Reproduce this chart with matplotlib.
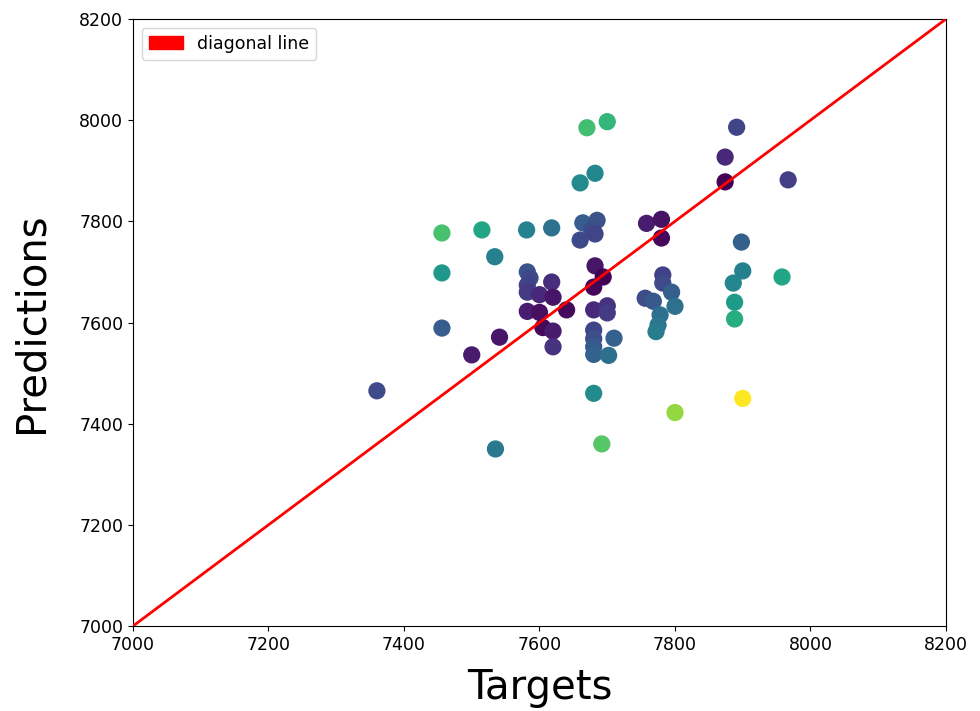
import numpy as np
import matplotlib
matplotlib.use('Agg')
import matplotlib.pyplot as plt
import matplotlib.patches as mpatches

# valores reais e previstos do modelo
targets = [7360, 7456, 7456, 7456, 7500, 7515, 7534, 7535, 7541, 7581,
           7618, 7582, 7586, 7582, 7582, 7600, 7618, 7620, 7582, 7600,
           7640, 7605, 7620, 7620, 7660, 7664, 7685, 7677, 7682, 7660,
           7682, 7670, 7700, 7682, 7694, 7680, 7680, 7700, 7700, 7680,
           7680, 7680, 7680, 7710, 7702, 7680, 7692, 7758, 7780, 7780,
           7782, 7782, 7756, 7768, 7795, 7800, 7778, 7775, 7772, 7800,
           7891, 7874, 7874, 7967, 7898, 7900, 7886, 7958, 7888, 7888,
           7900]
predictions = [7465, 7777, 7698, 7589, 7536, 7783, 7730, 7350, 7571, 7783,
               7787, 7700, 7688, 7674, 7660, 7655, 7680, 7650, 7622, 7620,
               7625, 7590, 7583, 7552, 7763, 7797, 7802, 7783, 7775, 7876,
               7895, 7985, 7997, 7712, 7690, 7670, 7625, 7633, 7619, 7585,
               7568, 7552, 7537, 7569, 7535, 7460, 7360, 7796, 7804, 7767,
               7694, 7678, 7648, 7642, 7660, 7632, 7615, 7595, 7582, 7422,
               7986, 7927, 7878, 7882, 7759, 7702, 7678, 7690, 7640, 7607,
               7450]

targets = np.array(targets)
predictions = np.array(predictions)
erro = np.abs(predictions - targets)

lims = [7000, 8200]

fig = plt.figure(figsize=(9.8, 7.11), dpi=100)
ax = fig.add_axes([0.1357, 0.1195, 0.8296, 0.8538])
ax.scatter(targets, predictions, c=erro, cmap='viridis', s=130, zorder=2)
ax.plot(lims, lims, color='red', linewidth=2, zorder=3)
ax.set_xlim(lims)
ax.set_ylim(lims)
ax.set_xticks(np.arange(7000, 8201, 200))
ax.set_yticks(np.arange(7000, 8201, 200))
ax.tick_params(labelsize=12.5)
ax.set_xlabel('Targets', fontsize=29, labelpad=10)
ax.set_ylabel('Predictions', fontsize=29, labelpad=20)

red_patch = mpatches.Patch(color='red', label='diagonal line')
ax.legend(handles=[red_patch], loc='upper left', fontsize=12.5)

fig.savefig('out.png', dpi=100)
